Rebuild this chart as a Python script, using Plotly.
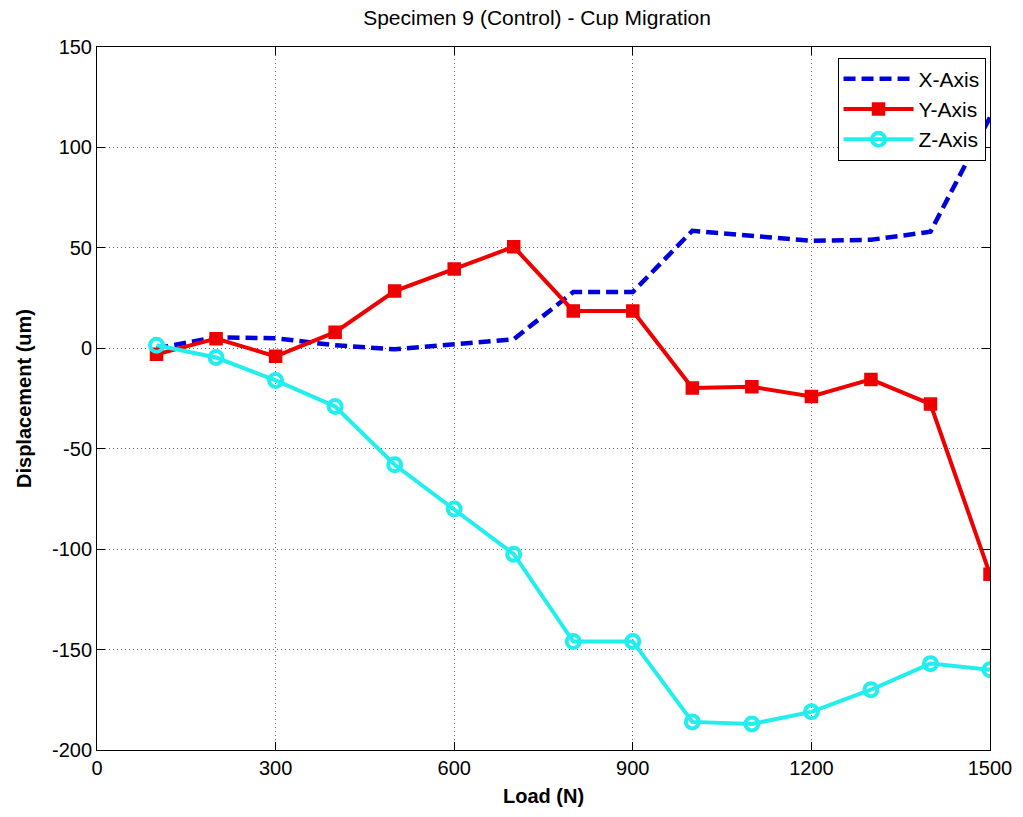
import plotly.graph_objects as go

load = [100, 200, 300, 400, 500, 600, 700, 800, 900, 1000, 1100, 1200, 1300, 1400, 1500]
x_axis = [0, 5.5, 5, 1.5, -0.5, 2, 4.5, 28, 28, 58.5, 56, 53.5, 54, 58, 115]
y_axis = [-3, 4.8, -4, 8, 28.5, 39.5, 50.5, 18.6, 18.6, -19.8, -19.2, -24, -15.5, -27.8, -112.5]
z_axis = [1.5, -4.6, -16, -29, -58, -80, -102.5, -146, -146, -186, -187, -181, -170, -157, -160]

x_ticks = [0, 300, 600, 900, 1200, 1500]
y_ticks = [150, 100, 50, 0, -50, -100, -150, -200]

FONT = "Liberation Sans, Arial, sans-serif"

fig = go.Figure()
fig.add_trace(go.Scatter(x=load, y=x_axis, name="X-Axis", mode="lines",
                         line=dict(color="#0000dd", width=4.5, dash="12px,6px")))
fig.add_trace(go.Scatter(x=load, y=y_axis, name="Y-Axis", mode="lines+markers",
                         line=dict(color="#ee0000", width=4),
                         marker=dict(symbol="square", size=12, color="#ee0000",
                                     line=dict(color="#ee0000", width=1.5))))
fig.add_trace(go.Scatter(x=load, y=z_axis, name="Z-Axis", mode="lines+markers",
                         line=dict(color="#22eeee", width=4),
                         marker=dict(symbol="circle-open", size=13, color="#22eeee",
                                     line=dict(color="#22eeee", width=4))))

axis_common = dict(showline=True, linecolor="black", linewidth=1, mirror="ticks",
                   ticks="inside", ticklen=8, tickcolor="black",
                   showgrid=True, gridcolor="#666", griddash="1px,3px", gridwidth=1,
                   zeroline=False, tickfont=dict(family=FONT, size=20, color="black"))

fig.update_xaxes(range=[0, 1500], tickvals=x_ticks, ticktext=[str(v) for v in x_ticks],
                 title=dict(text="<b>Load (N)</b>", font=dict(family=FONT, size=20, color="black"),
                            standoff=10),
                 **axis_common)
fig.update_yaxes(range=[-200, 150], tickvals=y_ticks, ticktext=[str(v) for v in y_ticks],
                 title=dict(text="<b>Displacement (um)</b>", font=dict(family=FONT, size=20, color="black"),
                            standoff=14),
                 **axis_common)

fig.update_layout(
    width=1023, height=817,
    margin=dict(l=97, r=33, t=47, b=67),
    paper_bgcolor="white", plot_bgcolor="white",
    title=dict(text="Specimen 9 (Control) - Cup Migration", x=0.525, xanchor="center",
               y=0.978, yanchor="middle",
               font=dict(family=FONT, size=21, color="black")),
    legend=dict(x=0.995, y=0.985, xanchor="right", yanchor="top",
                bgcolor="white", bordercolor="black", borderwidth=1,
                font=dict(family=FONT, size=21, color="black"),
                itemwidth=70, tracegroupgap=0),
    showlegend=True,
)

fig.write_html("out.html")
